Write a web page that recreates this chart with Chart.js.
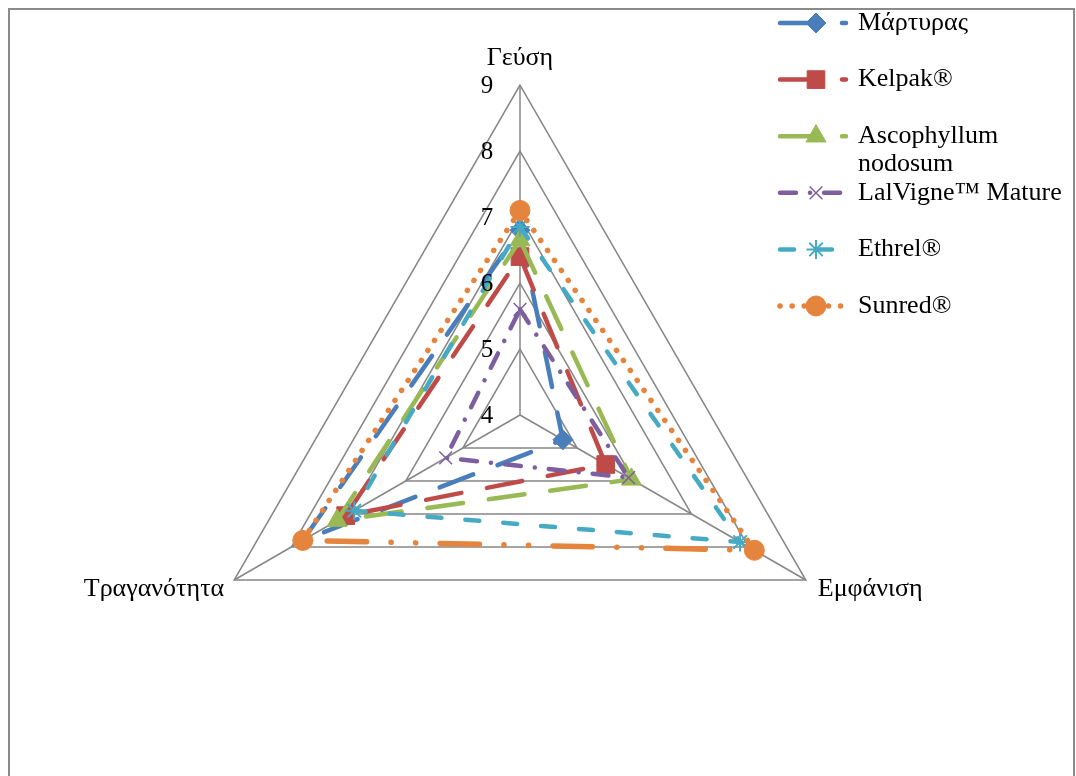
<!DOCTYPE html>
<html>
<head>
<meta charset="utf-8">
<script src="https://cdn.jsdelivr.net/npm/chart.js@4/dist/chart.umd.min.js"></script>
<style>
  html, body { margin: 0; padding: 0; background: #ffffff; }
  #wrap { position: relative; width: 1076px; height: 776px; }
</style>
</head>
<body>
<div id="wrap"><canvas id="c"></canvas></div>
<script>
// Sensory attributes (clockwise from the top) and panel scores per treatment
const categories = ['Γεύση', 'Εμφάνιση', 'Τραγανότητα'];
const seriesNames = ['Μάρτυρας', 'Kelpak®', 'Ascophyllum nodosum', 'LalVigne™ Mature', 'Ethrel®', 'Sunred®'];
const martyras    = [6.8, 4.75, 7.8];
const kelpak      = [6.4, 5.5, 7.05];
const ascophyllum = [6.65, 5.95, 7.2];
const lalvigne    = [5.6, 5.9, 5.3];
const ethrel      = [6.85, 7.85, 6.9];
const sunred      = [7.1, 8.1, 7.8];
const scaleMin = 4, scaleMax = 9, scaleStep = 1;

const seriesValues = [martyras, kelpak, ascophyllum, lalvigne, ethrel, sunred];

// Line and marker look for each series
const looks = [
  { color: '#4A7EBB', dash: [36, 26], point: 'rectRot', r: 10, pbw: 1 },
  { color: '#BE4B48', dash: [36, 26], point: 'rect', r: 12.5, pbw: 1 },
  { color: '#98B954', dash: [36, 26], point: 'triangle', r: 11.5, pbw: 1 },
  { color: '#7D5FA0', dash: [16, 14, 0.1, 14], point: 'crossRot', r: 9, pbw: 1.5 },
  { color: '#46AAC5', dash: [14, 24], point: 'star', r: 9.5, pbw: 2 },
  { color: '#E5843C', dash: [0.1, 12], bottomDash: [0.1, 23, 0.1, 23, 37, 23], point: 'circle', r: 10, pbw: 1, width: 5.5 }
];

const SERIF = '"Liberation Serif", "Times New Roman", serif';
const n = seriesNames.length;

const datasets = seriesNames.map((name, i) => {
  const lk = looks[i];
  return {
    label: name,
    data: seriesValues[i],
    borderColor: lk.color,
    backgroundColor: lk.color,
    fill: false,
    borderWidth: lk.width || 4.5,
    borderDash: lk.dash,
    borderCapStyle: 'round',
    borderJoinStyle: 'round',
    pointStyle: lk.point,
    pointRadius: lk.r,
    pointHoverRadius: lk.r,
    pointBorderWidth: lk.pbw,
    pointBackgroundColor: lk.color,
    pointBorderColor: lk.color,
    order: n - 1 - i
  };
});

// A series may use a different dash on its lower edge: build one dash list
// for the closed outline, edge by edge, each edge fitted to whole periods.
const edgeDash = {
  id: 'edgeDash',
  beforeDatasetDraw(chart, args) {
    const lk = looks[args.index];
    if (!lk || !lk.bottomDash) return;
    const pts = args.meta.data;
    const line = args.meta.dataset;
    const cy = chart.scales.r.yCenter;
    const m = pts.length;
    const seq = [];
    for (let i = 0; i < m; i++) {
      const a = pts[i], b = pts[(i + 1) % m];
      const L = Math.hypot(b.x - a.x, b.y - a.y);
      const pat = (a.y > cy && b.y > cy) ? lk.bottomDash : lk.dash;
      const T = pat.reduce((s, v) => s + v, 0);
      const k = Math.max(1, Math.round(L / T));
      const s = L / (k * T);
      for (let r = 0; r < k; r++) pat.forEach(v => seq.push(v * s));
    }
    line.options = Object.assign({}, line.options, { borderDash: seq });
  }
};

// Tick labels, attribute labels, legend and frame
const decorations = {
  id: 'decorations',
  afterDraw(chart) {
    const ctx = chart.ctx;
    const scale = chart.scales.r;

    // frame
    ctx.save();
    ctx.strokeStyle = '#8a8a8a';
    ctx.lineWidth = 2;
    ctx.strokeRect(9, 9, 1065, 800);
    ctx.restore();

    // value ticks, left of the vertical spoke
    ctx.save();
    ctx.fillStyle = '#000';
    ctx.font = '25px ' + SERIF;
    ctx.textAlign = 'center';
    ctx.textBaseline = 'middle';
    scale.ticks.forEach(t => {
      const p = scale.getPointPositionForValue(0, t.value);
      ctx.fillText(String(t.value), p.x - 33, p.y + 1);
    });
    ctx.restore();

    // attribute labels
    ctx.save();
    ctx.fillStyle = '#000';
    ctx.font = '26px ' + SERIF;
    ctx.textBaseline = 'middle';
    categories.forEach((lab, i) => {
      const p = scale.getPointPosition(i, scale.drawingArea);
      if (i === 0) {
        ctx.textAlign = 'center';
        ctx.fillText(lab, p.x, p.y - 27);
      } else if (p.x > scale.xCenter) {
        ctx.textAlign = 'left';
        ctx.fillText(lab, p.x + 12, p.y + 9);
      } else {
        ctx.textAlign = 'right';
        ctx.fillText(lab, p.x - 10, p.y + 9);
      }
    });
    ctx.restore();

    // legend
    const lx0 = 780, lx1 = 846, mx = 816, tx = 858, y0 = 23, rowH = 56.6, lineH = 28, maxW = 214;
    chart.data.datasets.forEach((ds, i) => {
      const y = y0 + i * rowH;
      ctx.save();
      ctx.strokeStyle = ds.borderColor;
      ctx.lineWidth = ds.borderWidth;
      ctx.lineCap = 'round';
      ctx.setLineDash(ds.borderDash);
      ctx.beginPath();
      ctx.moveTo(lx0, y);
      ctx.lineTo(lx1, y);
      ctx.stroke();
      ctx.restore();

      ctx.save();
      ctx.fillStyle = ds.pointBackgroundColor;
      ctx.strokeStyle = ds.pointBorderColor;
      ctx.lineWidth = ds.pointBorderWidth;
      if (Chart.helpers && Chart.helpers.drawPoint) {
        Chart.helpers.drawPoint(ctx, { pointStyle: ds.pointStyle, radius: ds.pointRadius, rotation: 0, borderWidth: ds.pointBorderWidth }, mx, y);
      } else {
        ctx.beginPath(); ctx.arc(mx, y, ds.pointRadius * 0.8, 0, Math.PI * 2); ctx.fill();
      }
      ctx.restore();

      ctx.save();
      ctx.fillStyle = '#000';
      ctx.font = '26px ' + SERIF;
      ctx.textAlign = 'left';
      ctx.textBaseline = 'middle';
      const words = ds.label.split(' ');
      const lines = [];
      let cur = '';
      words.forEach(w => {
        const test = cur ? cur + ' ' + w : w;
        if (cur && ctx.measureText(test).width > maxW) { lines.push(cur); cur = w; }
        else cur = test;
      });
      if (cur) lines.push(cur);
      lines.forEach((ln, k) => ctx.fillText(ln, tx, y + k * lineH));
      ctx.restore();
    });
  }
};

new Chart(document.getElementById('c'), {
  type: 'radar',
  data: { labels: categories, datasets },
  options: {
    responsive: true,
    maintainAspectRatio: false,
    animation: false,
    layout: { padding: { left: 190, right: 226, top: 85, bottom: 31 } },
    plugins: { legend: { display: false }, tooltip: { enabled: false } },
    elements: { line: { tension: 0 } },
    scales: {
      r: {
        min: scaleMin,
        max: scaleMax,
        ticks: { stepSize: scaleStep, display: false },
        pointLabels: { display: false },
        grid: { color: '#878787', lineWidth: 1.5 },
        angleLines: { color: '#878787', lineWidth: 1.5 }
      }
    }
  },
  plugins: [edgeDash, decorations]
});
</script>
</body>
</html>
